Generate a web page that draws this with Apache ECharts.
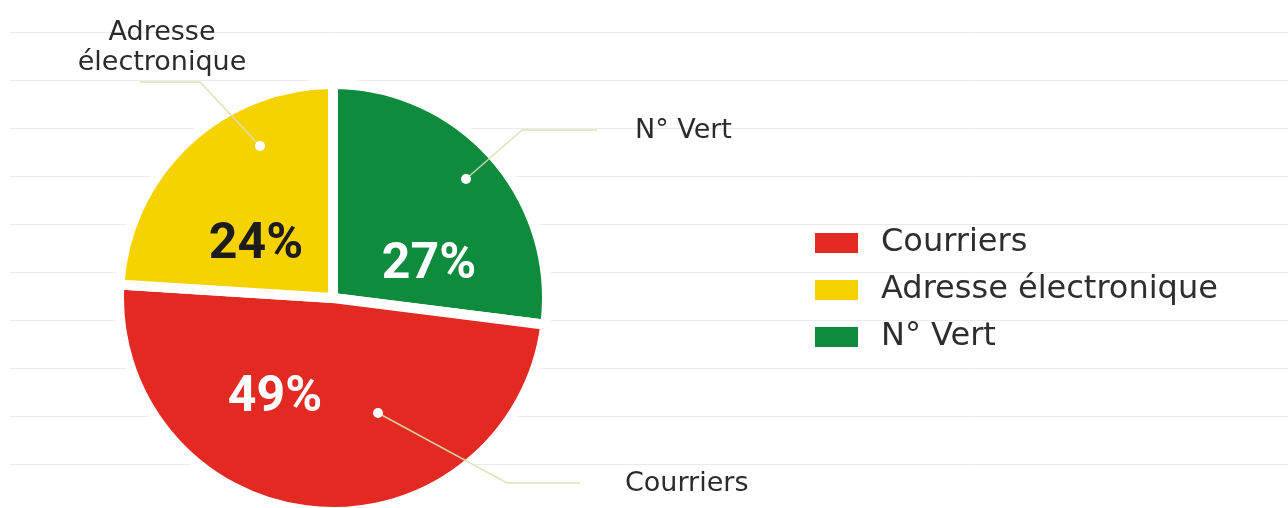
<!DOCTYPE html>
<html>
<head>
<meta charset="utf-8">
<script src="https://cdn.jsdelivr.net/npm/echarts@6/dist/echarts.min.js"></script>
<style>
html,body{margin:0;padding:0;background:#fff;}
#chart{width:1288px;height:508px;}
</style>
</head>
<body>
<div id="chart"></div>
<script>
// ---- data ----
const categories = ['N° Vert', 'Courriers', 'Adresse électronique'];
const values = [27, 49, 24];
const legendOrder = ['Courriers', 'Adresse électronique', 'N° Vert'];
const outerLabelText = ['N° Vert', 'Courriers', 'Adresse\nélectronique'];

// ---- styles / layout ----
const colors = ['#0f8b3e', '#e32a22', '#f6d200'];
const pctColors = ['#ffffff', '#ffffff', '#1c1c1c'];
const CX = 333, CY = 298, R = 214;
// inner percent label centres
const pctPos = [[429, 265], [275, 398], [256, 245]];
// leader lines: dot, elbow, end ; label anchor
const leaders = [
  {pts: [[466, 179], [522, 130], [597, 130]], lx: 635, ly: 131, align: 'left'},
  {pts: [[378, 413], [507, 483], [580, 483]], lx: 625, ly: 484, align: 'left'},
  {pts: [[260, 146], [200, 82], [140, 82]], lx: 162, ly: 48, align: 'center'}
];

const chart = echarts.init(document.getElementById('chart'), null, {renderer: 'canvas'});

const mainData = categories.map((n, i) => ({
  name: n, value: values[i],
  itemStyle: {color: colors[i]},
  label: {color: pctColors[i]}
}));
const overlayData = categories.map((n, i) => ({name: n, value: values[i]}));

const option = {
  animation: false,
  backgroundColor: '#ffffff',
  grid: {left: 10, right: 0, top: 32, bottom: 44},
  xAxis: {type: 'value', show: false, min: 0, max: 1},
  yAxis: {
    type: 'value', min: 0, max: 9, interval: 1,
    axisLine: {show: false}, axisTick: {show: false}, axisLabel: {show: false},
    splitLine: {show: true, lineStyle: {color: '#ebebeb', width: 1}}
  },
  legend: {
    data: legendOrder,
    orient: 'vertical',
    left: 813, top: 227,
    padding: 0,
    itemWidth: 45, itemHeight: 22, itemGap: 15,
    icon: 'rect',
    selectedMode: false,
    textStyle: {fontFamily: 'DejaVu Sans', fontSize: 32, color: '#2e2e2e', lineHeight: 32, padding: [0, 0, 0, 17]}
  },
  graphic: leaders.map(l => ({
    type: 'circle', z: 100,
    shape: {cx: l.pts[0][0], cy: l.pts[0][1], r: 5},
    style: {fill: '#ffffff'}
  })),
  series: [
    {
      type: 'pie',
      z: 2,
      center: [CX, CY], radius: [0, R],
      startAngle: 90, clockwise: true,
      avoidLabelOverlap: false,
      silent: true,
      itemStyle: {borderColor: '#ffffff', borderWidth: 10},
      label: {
        show: true, position: 'inside',
        formatter: '{c}%',
        fontFamily: 'Roboto', fontWeight: 'bold', fontSize: 50
      },
      labelLine: {show: false},
      labelLayout: function (p) {
        const q = pctPos[p.dataIndex];
        return {x: q[0], y: q[1], align: 'center', verticalAlign: 'middle'};
      },
      data: mainData
    },
    {
      type: 'pie',
      z: 5,
      center: [CX, CY], radius: [0, R],
      startAngle: 90, clockwise: true,
      avoidLabelOverlap: false,
      silent: true,
      legendHoverLink: false,
      itemStyle: {color: 'rgba(0,0,0,0)', borderWidth: 0},
      label: {
        show: true, position: 'outside',
        formatter: function (p) { return outerLabelText[p.dataIndex]; },
        fontFamily: 'DejaVu Sans', fontSize: 27, lineHeight: 30, color: '#2b2b2b'
      },
      labelLine: {show: true, showAbove: true, lineStyle: {color: 'rgba(214,224,176,0.9)', width: 1.5}},
      labelLayout: function (p) {
        const l = leaders[p.dataIndex];
        return {
          x: l.lx, y: l.ly, align: l.align, verticalAlign: 'middle',
          labelLinePoints: l.pts.map(pt => pt.slice())
        };
      },
      data: overlayData
    }
  ]
};
chart.setOption(option);
</script>
</body>
</html>
